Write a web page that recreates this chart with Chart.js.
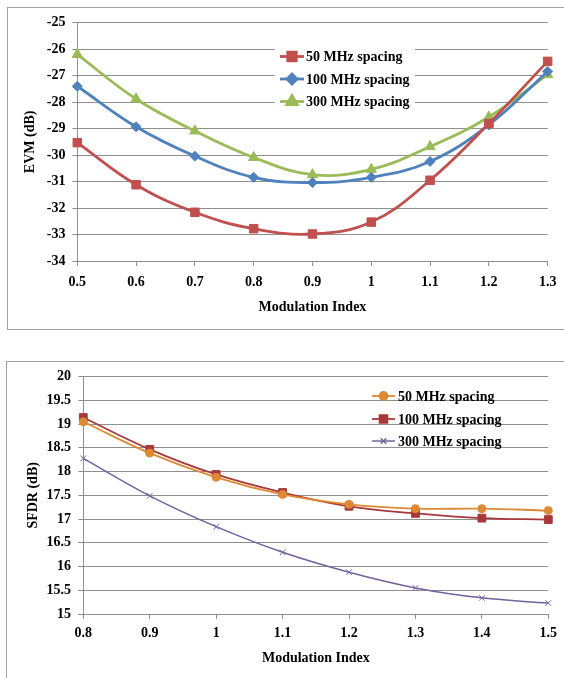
<!DOCTYPE html>
<html>
<head>
<meta charset="utf-8">
<script src="https://cdn.jsdelivr.net/npm/chart.js@4/dist/chart.umd.min.js"></script>
<style>
  html, body { margin: 0; padding: 0; background: #fff; overflow: hidden; }
  body { width: 564px; height: 678px; position: relative; }
  .frame { position: absolute; border: 1px solid #a3a3a3; box-sizing: border-box; }
  canvas { position: absolute; left: 0; }
</style>
</head>
<body>
<div class="frame" style="left:7px; top:7px; width:600px; height:323px;"></div>
<div class="frame" style="left:6px; top:361px; width:600px; height:400px;"></div>
<canvas id="evm" width="564" height="340" style="top:0px;"></canvas>
<canvas id="sfdr" width="564" height="333" style="top:345px;"></canvas>
<script>
// ---------- Data: top chart (EVM) ----------
const evmCategories = ['0.5', '0.6', '0.7', '0.8', '0.9', '1', '1.1', '1.2', '1.3'];
const evm50 = [-29.53, -31.12, -32.16, -32.78, -32.98, -32.53, -30.95, -28.81, -26.46];
const evm100 = [-27.40, -28.93, -30.04, -30.84, -31.04, -30.84, -30.24, -28.86, -26.84];
const evm300 = [-26.20, -27.88, -29.09, -30.09, -30.74, -30.54, -29.68, -28.56, -26.96];
const evmSeriesLabels = ['50 MHz spacing', '100 MHz spacing', '300 MHz spacing'];

// ---------- Data: bottom chart (SFDR) ----------
const sfdrCategories = ['0.8', '0.9', '1', '1.1', '1.2', '1.3', '1.4', '1.5'];
const sfdr50 = [19.05, 18.39, 17.88, 17.52, 17.31, 17.22, 17.22, 17.18];
const sfdr100 = [19.14, 18.47, 17.94, 17.56, 17.27, 17.12, 17.02, 16.99];
const sfdr300 = [18.28, 17.49, 16.84, 16.30, 15.88, 15.55, 15.34, 15.23];
const sfdrSeriesLabels = ['50 MHz spacing', '100 MHz spacing', '300 MHz spacing'];

const FONT = "'Liberation Serif', 'Times New Roman', serif";
const GRID = '#8f8f8f';

// Legend drawn inside the plot area (white box over the grid, under the data)
const innerLegend = {
  id: 'innerLegend',
  beforeDatasetsDraw(chart, args, opts) {
    const ctx = chart.ctx;
    ctx.save();
    ctx.fillStyle = '#ffffff';
    ctx.fillRect(opts.box.x, opts.box.y, opts.box.w, opts.box.h);
    chart.data.datasets.forEach((ds, i) => {
      const y = opts.rows[i];
      ctx.strokeStyle = ds.borderColor;
      ctx.lineWidth = ds.borderWidth;
      ctx.beginPath();
      ctx.moveTo(opts.lineX0, y);
      ctx.lineTo(opts.lineX1, y);
      ctx.stroke();
      ctx.fillStyle = ds.pointBackgroundColor;
      ctx.strokeStyle = ds.pointBorderColor;
      Chart.helpers.drawPoint(ctx, {
        pointStyle: ds.pointStyle,
        radius: ds.pointRadius,
        rotation: 0,
        borderWidth: ds.pointBorderWidth
      }, (opts.lineX0 + opts.lineX1) / 2, y);
      ctx.fillStyle = '#000';
      ctx.font = 'bold 14px ' + FONT;
      ctx.textAlign = 'left';
      ctx.textBaseline = 'middle';
      ctx.fillText(ds.label, opts.textX, y + 1);
    });
    ctx.restore();
  }
};

function makeChart(id, cfg) {
  return new Chart(document.getElementById(id), {
    type: 'line',
    data: {
      labels: cfg.categories,
      datasets: cfg.datasets
    },
    options: {
      responsive: false,
      animation: false,
      layout: { padding: cfg.padding },
      plugins: {
        legend: { display: false },
        tooltip: { enabled: false },
        innerLegend: cfg.legend
      },
      scales: {
        x: {
          type: 'category',
          offset: false,
          grid: { drawOnChartArea: false, drawTicks: true, tickLength: 5, color: GRID },
          border: { color: GRID },
          ticks: { color: '#000', font: { family: FONT, size: 14, weight: 'bold' }, padding: cfg.xTickPad, maxRotation: 0, autoSkip: false },
          title: { display: true, text: 'Modulation Index', color: '#000', font: { family: FONT, size: 14, weight: 'bold' }, padding: { top: 0, bottom: cfg.xTitlePad } },
          afterFit: s => { s.height = cfg.xHeight; }
        },
        y: {
          min: cfg.yMin, max: cfg.yMax,
          grid: { color: GRID, drawTicks: true, tickLength: 5 },
          border: { color: GRID },
          ticks: {
            stepSize: cfg.yStep, color: '#000',
            font: { family: FONT, size: 14, weight: 'bold' }, padding: cfg.yTickPad,
            callback: v => String(Math.round(v * 10) / 10)
          },
          title: { display: true, text: cfg.yTitle, color: '#000', font: { family: FONT, size: 14, weight: 'bold' }, padding: { top: cfg.yTitlePad, bottom: 0 } },
          afterFit: s => { s.width = cfg.yWidth; }
        }
      }
    },
    plugins: [innerLegend]
  });
}

function series(label, data, color, style, radius, width, fill) {
  return {
    label, data,
    borderColor: color, borderWidth: width,
    pointStyle: style, pointRadius: radius,
    pointBackgroundColor: fill === false ? 'rgba(0,0,0,0)' : color,
    pointBorderColor: color, pointBorderWidth: 1,
    tension: 0.4, fill: false, clip: false
  };
}

makeChart('evm', {
  categories: evmCategories,
  datasets: [
    series(evmSeriesLabels[0], evm50, '#C0504D', 'rect', 6, 2.8),
    series(evmSeriesLabels[1], evm100, '#4F81BD', 'rectRot', 5, 2.8),
    series(evmSeriesLabels[2], evm300, '#9BBB59', 'triangle', 6, 2.8)
  ],
  padding: { left: 0, top: 22.7, right: 16, bottom: 0 },
  xHeight: 79, yWidth: 77.3,
  xTickPad: 7.6, yTickPad: 6.8, xTitlePad: 24.6, yTitlePad: 21.6,
  yMin: -34, yMax: -25, yStep: 1, yTitle: 'EVM (dB)',
  legend: { box: { x: 275, y: 45, w: 140, h: 70 }, lineX0: 280, lineX1: 304, textX: 306, rows: [56.5, 79, 101.5] }
});

makeChart('sfdr', {
  categories: sfdrCategories,
  datasets: [
    series(sfdrSeriesLabels[0], sfdr50, '#DE8A34', 'circle', 4, 1.8),
    series(sfdrSeriesLabels[1], sfdr100, '#A8393A', 'rect', 5.5, 1.8),
    series(sfdrSeriesLabels[2], sfdr300, '#7262A0', 'crossRot', 4, 1.5, false)
  ],
  padding: { left: 0, top: 31.7, right: 15.7, bottom: 0 },
  xHeight: 64, yWidth: 83.3,
  xTickPad: 5.6, yTickPad: 7.3, xTitlePad: 11.3, yTitlePad: 24.6,
  yMin: 15, yMax: 20, yStep: 0.5, yTitle: 'SFDR (dB)',
  legend: { box: { x: 367, y: 386, w: 141, h: 68 }, lineX0: 372, lineX1: 395, textX: 398, rows: [51, 74, 96] }
});
</script>
</body>
</html>
